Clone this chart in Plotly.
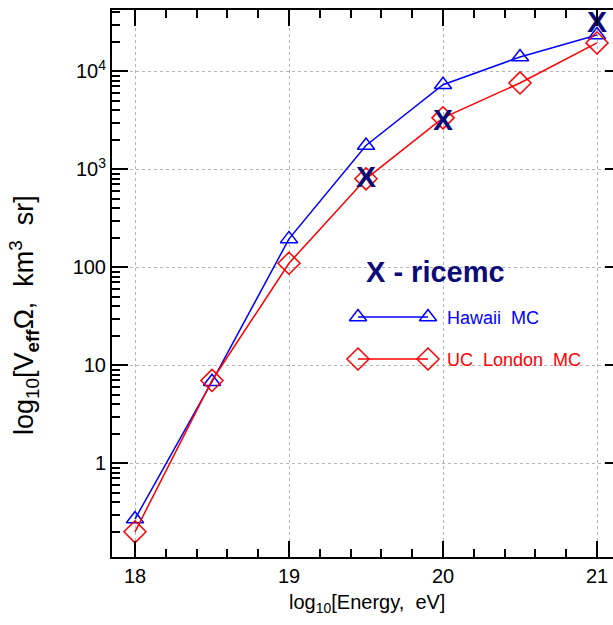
import numpy as np
import plotly.graph_objects as go

# ---- data ----
energy = [18.0, 18.5, 19.0, 19.5, 20.0, 20.5, 21.0]
hawaii_mc = [0.27, 6.8, 195, 1750, 7300, 14000, 23500]
ucl_mc = [0.20, 7.0, 110, 800, 3350, 7600, 19500]
ricemc_energy = [19.5, 20.0, 21.0]
ricemc_vals = [780, 3000, 30000]

y_tickvals = [1, 10, 100, 1000, 10000]
y_ticktext = ["1", "10", "100", "10<sup>3</sup>", "10<sup>4</sup>"]
x_tickvals = [18, 19, 20, 21]

W, H = 613, 625
L, R, T, B = 112, 0, 10, 68
PX_W = W - L - R
PX_H = H - T - B

def px(xp):
    return (xp - L) / PX_W

def py(yp):
    return (H - B - yp) / PX_H

FONT = "Liberation Sans, Arial, sans-serif"
NAVY = "#0c0c78"

fig = go.Figure()

fig.add_trace(go.Scatter(x=energy, y=hawaii_mc, mode="lines+markers",
                         line=dict(color="#0000ff", width=1.5),
                         marker=dict(symbol="triangle-up-open", size=15,
                                     color="#0000ff", line=dict(width=1.5)),
                         showlegend=False, cliponaxis=False))
fig.add_trace(go.Scatter(x=energy, y=ucl_mc, mode="lines+markers",
                         line=dict(color="#ff0000", width=1.5),
                         marker=dict(symbol="diamond-open", size=17,
                                     color="#ff0000", line=dict(width=1.5)),
                         showlegend=False, cliponaxis=False))
fig.add_trace(go.Scatter(x=ricemc_energy, y=ricemc_vals, mode="text",
                         text=["X"] * len(ricemc_vals),
                         textfont=dict(family=FONT, size=30, color=NAVY, weight="bold"),
                         textposition="middle center",
                         showlegend=False, cliponaxis=False))

# legend samples on an overlay axis in pixel units
fig.add_trace(go.Scatter(x=[358, 428], y=[317, 317], xaxis="x2", yaxis="y2",
                         mode="lines+markers",
                         line=dict(color="#0000ff", width=1.5),
                         marker=dict(symbol="triangle-up-open", size=15,
                                     color="#0000ff", line=dict(width=1.5)),
                         showlegend=False))
fig.add_trace(go.Scatter(x=[358, 428], y=[359, 359], xaxis="x2", yaxis="y2",
                         mode="lines+markers",
                         line=dict(color="#ff0000", width=1.5),
                         marker=dict(symbol="diamond-open", size=17,
                                     color="#ff0000", line=dict(width=1.5)),
                         showlegend=False))
# invisible trace to carry the right-hand tick axis
fig.add_trace(go.Scatter(x=[energy[0]], y=[hawaii_mc[0]], yaxis="y3",
                         mode="markers", marker=dict(opacity=0),
                         showlegend=False, hoverinfo="skip"))

minor_y = [m * 10.0 ** e for e in range(-1, 5) for m in range(2, 10)]

x0 = 18 - (135 - L) / 154.0
x1 = x0 + PX_W / 154.0
ylo = -(H - B - 463.3) / 98.0
yhi = ylo + PX_H / 98.0

tickfont = dict(family=FONT, size=20, color="black")
grid = dict(showgrid=True, gridcolor="#b4b4b4", griddash="dot", gridwidth=1)

fig.update_layout(
    width=W, height=H,
    margin=dict(l=L, r=R, t=T, b=B),
    paper_bgcolor="white", plot_bgcolor="white",
    xaxis=dict(range=[x0, x1], tickvals=x_tickvals,
               showline=True, linecolor="black", linewidth=2, mirror="ticks",
               ticks="inside", tickcolor="black", tickwidth=2, ticklen=16,
               zeroline=False, tickfont=tickfont,
               minor=dict(ticks="inside", ticklen=8, tickwidth=1.5,
                          tickcolor="black", dtick=0.2, tick0=18, showgrid=False),
               **grid),
    yaxis=dict(type="log", range=[ylo, yhi], tickvals=y_tickvals, ticktext=y_ticktext,
               showline=True, linecolor="black", linewidth=2, mirror=False,
               ticks="inside", tickcolor="black", tickwidth=2, ticklen=16,
               zeroline=False, tickfont=tickfont,
               minor=dict(ticks="inside", ticklen=8, tickwidth=1.5,
                          tickcolor="black", tickvals=minor_y, showgrid=False),
               **grid),
    yaxis3=dict(type="log", range=[ylo, yhi], overlaying="y", side="right",
                anchor="x", tickvals=y_tickvals, showticklabels=False,
                ticks="inside", ticklen=8, tickwidth=2, tickcolor="black",
                showline=False, showgrid=False, zeroline=False),
    xaxis2=dict(overlaying="x", range=[L, W - R], visible=False),
    yaxis2=dict(overlaying="y", range=[H - B, T], visible=False),
    showlegend=False,
)

annotations = [
    dict(text="X - ricemc", x=px(364), y=py(272), xanchor="left", yanchor="middle",
         font=dict(family=FONT, size=29, color=NAVY, weight="bold")),
    dict(text="Hawaii  MC", x=px(445), y=py(318), xanchor="left", yanchor="middle",
         font=dict(family=FONT, size=18, color="#0000ff")),
    dict(text="UC  London  MC", x=px(445), y=py(360), xanchor="left", yanchor="middle",
         font=dict(family=FONT, size=18, color="#ff0000")),
    dict(text="log<sub>10</sub>[Energy,  eV]", x=px(367), y=py(603),
         xanchor="center", yanchor="middle",
         font=dict(family=FONT, size=20, color="black")),
    dict(text="log<sub>10</sub>[V<sub><b>eff</b></sub>Ω,  km<sup>3</sup>  sr]",
         x=px(24), y=py(315), textangle=-90,
         xanchor="center", yanchor="middle",
         font=dict(family=FONT, size=27, color="black")),
]
for a in annotations:
    a.update(xref="paper", yref="paper", showarrow=False)
fig.update_layout(annotations=annotations)

fig.write_html("out.html")
